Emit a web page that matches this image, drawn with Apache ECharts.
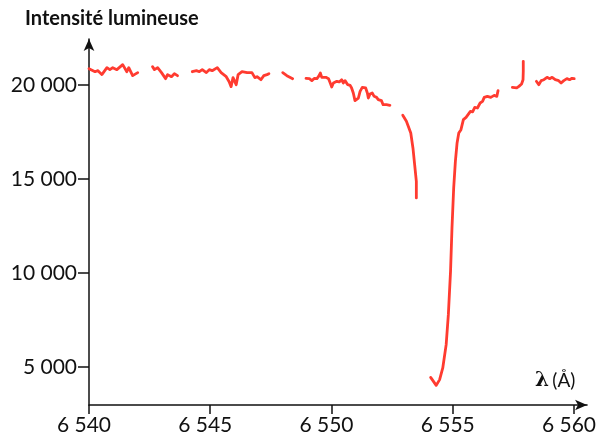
<!DOCTYPE html>
<html>
<head>
<meta charset="utf-8">
<script src="https://cdn.jsdelivr.net/npm/echarts@6/dist/echarts.min.js"></script>
<style>
  html, body { margin: 0; padding: 0; background: #fff; overflow: hidden; }
  #chart { width: 599px; height: 439px; }
</style>
</head>
<body>
<div id="chart"></div>
<script>
// Spectrum around H-alpha: wavelength (Å) and light intensity.
// null entries mark gaps in the recorded spectrum.
const wavelength = [
  6540.00, 6540.25, 6540.37, 6540.53, 6540.74, 6540.86, 6540.98, 6541.15, 6541.39, 6541.56, 6541.64, 6541.80, 6542.01,
  null,
  6542.62, 6542.70, 6542.83, 6542.99, 6543.16, 6543.24, 6543.40, 6543.52, 6543.65,
  null,
  6544.26, 6544.43, 6544.55, 6544.67, 6544.84, 6544.96, 6545.08, 6545.29, 6545.45, 6545.66, 6545.78, 6545.86,
  6545.94, 6546.07, 6546.15, 6546.31, 6546.52, 6546.72, 6546.84, 6546.93, 6547.09, 6547.21, 6547.34, 6547.42,
  null,
  6547.99, 6548.16, 6548.32, 6548.40,
  null,
  6548.95, 6549.09, 6549.19, 6549.30, 6549.40, 6549.47, 6549.54, 6549.60, 6549.67, 6549.77, 6549.88, 6549.95,
  6550.01, 6550.08, 6550.22, 6550.32, 6550.42, 6550.49, 6550.56, 6550.67, 6550.77, 6550.83, 6550.90, 6550.97,
  6551.04, 6551.11, 6551.18, 6551.27, 6551.35, 6551.41, 6551.48, 6551.52, 6551.59, 6551.68, 6551.76, 6551.86,
  6551.93, 6552.00, 6552.06, 6552.13, 6552.20, 6552.27, 6552.34, 6552.41,
  null,
  6552.94, 6553.09, 6553.27, 6553.36, 6553.43, 6553.50, 6553.50,
  null,
  6554.09, 6554.32, 6554.46, 6554.59, 6554.73, 6554.82, 6554.91, 6554.97, 6555.04, 6555.11, 6555.18, 6555.25,
  6555.34, 6555.44, 6555.55, 6555.61, 6555.73, 6555.82, 6555.91, 6556.02, 6556.13, 6556.23, 6556.30, 6556.43,
  6556.57, 6556.71, 6556.82, 6556.87,
  null,
  6557.46, 6557.64, 6557.73, 6557.84, 6557.90, 6557.91, 6557.91,
  null,
  6558.45, 6558.55, 6558.65, 6558.76, 6558.89, 6559.00, 6559.10, 6559.23, 6559.37, 6559.47, 6559.58, 6559.71,
  6559.82, 6559.92, 6560.01
];

const intensity = [
  20870, 20710, 20765, 20555, 20925, 20820, 20925, 20820, 21085, 20710, 20925, 20500, 20660,
  null,
  20980, 20820, 20925, 20660, 20340, 20555, 20445, 20605, 20500,
  null,
  20710, 20765, 20710, 20820, 20660, 20820, 20765, 20925, 20660, 20445, 20180, 19915,
  20395, 20020, 20555, 20710, 20660, 20660, 20395, 20445, 20285, 20500, 20555, 20605,
  null,
  20660, 20500, 20395, 20340,
  null,
  20360, 20340, 20235, 20360, 20340, 20465, 20640, 20410, 20340, 20410, 20340, 20110,
  19900, 20110, 20200, 20165, 20285, 20110, 20235, 20020, 19985, 19845, 19580, 19170,
  19130, 19310, 19665, 19875, 19930, 19845, 19580, 19310, 19525, 19580, 19400, 19345,
  19225, 19130, 19170, 18955, 19045, 18955, 18990, 18920,
  null,
  18390, 18070, 17450, 16655, 15765, 14875, 13995,
  null,
  4450, 4025, 4330, 4950, 6190, 7785, 10090, 12400, 14525, 15940, 16920, 17450,
  17625, 18160, 18280, 18210, 18600, 18570, 18815, 18780, 19045, 19130, 19345, 19400,
  19345, 19450, 19400, 19705,
  null,
  19875, 19845, 19930, 20060, 20285, 20730, 21260,
  null,
  20200, 20020, 20235, 20285, 20410, 20340, 20410, 20285, 20235, 20110, 20235, 20340,
  20285, 20360, 20340
];

const xTicks = [6540, 6545, 6550, 6555, 6560];
const yTicks = [5000, 10000, 15000, 20000];

// Split the spectrum into separate line pieces at each gap.
const pieces = [];
let current = [];
wavelength.forEach((w, i) => {
  if (w === null || intensity[i] === null) {
    if (current.length) pieces.push(current);
    current = [];
  } else {
    current.push([w, intensity[i]]);
  }
});
if (current.length) pieces.push(current);

// "20000" -> "20 000", "6540" -> "6 540"
const groupDigits = v => String(Math.round(v)).replace(/\B(?=(\d{3})+(?!\d))/g, ' ');

const FONT = 'Lato';
const RED = '#ff3b30';
const INK = '#111';

const chart = echarts.init(document.getElementById('chart'), null, { renderer: 'canvas' });

chart.setOption({
  animation: false,
  backgroundColor: '#ffffff',
  grid: { left: 89, right: 8, top: 39, bottom: 34, containLabel: false },
  xAxis: {
    type: 'value',
    min: 6540,
    max: 6560.54,
    splitLine: { show: false },
    axisLine: {
      onZero: false,
      symbol: ['none', 'arrow'],
      symbolSize: [8, 12],
      lineStyle: { color: INK, width: 1.5 }
    },
    axisTick: {
      customValues: xTicks,
      inside: false,
      length: 9,
      lineStyle: { color: INK, width: 1.5 }
    },
    axisLabel: {
      customValues: xTicks,
      margin: 10,
      padding: [0, 10, 0, 0],
      color: INK,
      fontFamily: FONT,
      fontSize: 21,
      formatter: v => groupDigits(v)
    }
  },
  yAxis: {
    type: 'value',
    min: 2980,
    max: 22450,
    splitLine: { show: false },
    axisLine: {
      onZero: false,
      symbol: ['none', 'arrow'],
      symbolSize: [8, 12],
      lineStyle: { color: INK, width: 1.5 }
    },
    axisTick: {
      customValues: yTicks,
      inside: false,
      length: 11,
      lineStyle: { color: INK, width: 1.5 }
    },
    axisLabel: {
      customValues: yTicks,
      margin: 12,
      color: INK,
      fontFamily: FONT,
      fontSize: 21,
      formatter: v => groupDigits(v)
    }
  },
  series: pieces.map(p => ({
    type: 'line',
    data: p,
    showSymbol: false,
    silent: true,
    lineStyle: { color: RED, width: 2.8, cap: 'round', join: 'round' }
  })),
  graphic: [
    {
      type: 'text',
      left: 25,
      top: 9,
      style: {
        text: 'Intensité lumineuse',
        fill: INK,
        font: `bold 20px ${FONT}`
      }
    },
    {
      type: 'text',
      left: 535,
      top: 371,
      style: {
        rich: {
          l: { fontFamily: 'DejaVu Serif', fontWeight: 'bold', fontSize: 20, fill: INK },
          u: { fontFamily: FONT, fontSize: 19, fill: INK }
        },
        text: '{l|λ} {u|(Å)}'
      }
    }
  ]
});
</script>
</body>
</html>
